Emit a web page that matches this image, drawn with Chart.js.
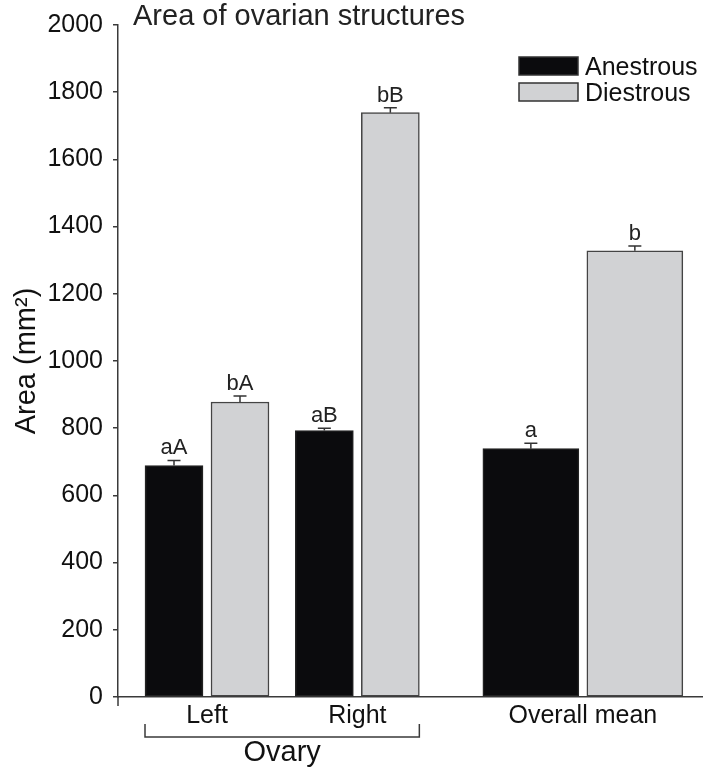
<!DOCTYPE html>
<html>
<head>
<meta charset="utf-8">
<script src="https://cdn.jsdelivr.net/npm/chart.js@4.4.1/dist/chart.umd.min.js"></script>
<style>
  html, body { margin: 0; padding: 0; background: #fff; }
  #wrap { width: 706px; height: 774px; position: relative; }
</style>
</head>
<body>
<div id="wrap"><canvas id="chart"></canvas></div>
<script>
// Area of ovarian structures, anestrous vs diestrous
const groups = ['Left', 'Right', 'Overall mean'];
const anestrous = [689, 793, 739];
const diestrous = [878, 1739, 1328];
const anestrousSE = [15, 7, 16];
const diestrousSE = [18, 15, 14];
const anestrousLetters = ['aA', 'aB', 'a'];
const diestrousLetters = ['bA', 'bB', 'b'];
const yTicks = [0, 200, 400, 600, 800, 1000, 1200, 1400, 1600, 1800, 2000];

// where each group sits on the (linear) x axis, ovary groups are closer together
const slots = [0, 1, 2.5];
const isOvary = i => i < 2;

const BLACK = '#0b0b0d';
const GREY = '#d1d2d4';
const AXIS = '#3a3a3a';
const FONT = "'Liberation Sans', Arial, Helvetica, sans-serif";

function points(values, keep) {
    return values.map((v, i) => ({ x: slots[i], y: keep(i) ? v : null }));
}

function barSet(label, values, se, letters, fill, border, ovary) {
    return {
        label: label,
        data: points(values, i => ovary ? isOvary(i) : !isOvary(i)),
        se: se,
        letters: letters,
        stack: label + (ovary ? '-ovary' : '-mean'),
        backgroundColor: fill,
        borderColor: border,
        borderWidth: 1.5,
        borderSkipped: false,
        barThickness: ovary ? 66 : 104,
        maxBarThickness: ovary ? 58 : 96,
        skipNull: true
    };
}

const datasets = [
    barSet('Anestrous', anestrous, anestrousSE, anestrousLetters, BLACK, '#222', true),
    barSet('Diestrous', diestrous, diestrousSE, diestrousLetters, GREY, '#444', true),
    barSet('Anestrous', anestrous, anestrousSE, anestrousLetters, BLACK, '#222', false),
    barSet('Diestrous', diestrous, diestrousSE, diestrousLetters, GREY, '#444', false)
];

// error bars (upper only) and significance letters
const errorBars = {
    id: 'errorBars',
    afterDatasetsDraw(chart) {
        const ctx = chart.ctx;
        const y = chart.scales.y;
        ctx.save();
        chart.data.datasets.forEach((ds, di) => {
            const meta = chart.getDatasetMeta(di);
            meta.data.forEach((bar, i) => {
                if (ds.data[i].y == null) return;
                const top = y.getPixelForValue(ds.data[i].y);
                const cap = y.getPixelForValue(ds.data[i].y + ds.se[i]);
                ctx.strokeStyle = '#333';
                ctx.lineWidth = 1.5;
                ctx.beginPath();
                ctx.moveTo(bar.x, top);
                ctx.lineTo(bar.x, cap);
                ctx.moveTo(bar.x - 6.5, cap);
                ctx.lineTo(bar.x + 6.5, cap);
                ctx.stroke();
                ctx.fillStyle = '#222';
                ctx.font = '22px ' + FONT;
                ctx.textAlign = 'center';
                ctx.textBaseline = 'alphabetic';
                ctx.fillText(ds.letters[i], bar.x, cap - 6);
            });
        });
        ctx.restore();
    }
};

// title, legend, ovary bracket
const decorations = {
    id: 'decorations',
    afterDraw(chart) {
        const ctx = chart.ctx;
        const area = chart.chartArea;
        ctx.save();

        ctx.fillStyle = '#222';
        ctx.font = '29px ' + FONT;
        ctx.textAlign = 'left';
        ctx.textBaseline = 'alphabetic';
        ctx.fillText('Area of ovarian structures', 133, 25);

        // legend
        chart.data.datasets.slice(0, 2).forEach((ds, i) => {
            const top = 57 + i * 26;
            ctx.fillStyle = ds.backgroundColor;
            ctx.fillRect(519, top, 59, 18);
            ctx.strokeStyle = '#333';
            ctx.lineWidth = 1.5;
            ctx.strokeRect(519, top, 59, 18);
            ctx.fillStyle = '#111';
            ctx.font = '25px ' + FONT;
            ctx.fillText(ds.label, 585, top + 18);
        });

        // y axis runs a little below the x axis
        ctx.strokeStyle = AXIS;
        ctx.lineWidth = 1.5;
        ctx.beginPath();
        ctx.moveTo(area.left, area.bottom);
        ctx.lineTo(area.left, area.bottom + 9);
        ctx.stroke();

        // bracket under Left / Right
        const a = chart.getDatasetMeta(0).data[0];
        const d = chart.getDatasetMeta(1).data[1];
        const x0 = a.x - a.width / 2;
        const x1 = d.x + d.width / 2;
        const b0 = area.bottom + 27, b1 = area.bottom + 40;
        ctx.beginPath();
        ctx.moveTo(x0, b0);
        ctx.lineTo(x0, b1);
        ctx.lineTo(x1, b1);
        ctx.lineTo(x1, b0);
        ctx.stroke();
        ctx.fillStyle = '#111';
        ctx.font = '29px ' + FONT;
        ctx.textAlign = 'center';
        ctx.textBaseline = 'middle';
        ctx.fillText('Ovary', (x0 + x1) / 2, area.bottom + 56);

        ctx.restore();
    }
};

new Chart(document.getElementById('chart'), {
    type: 'bar',
    data: { datasets: datasets },
    plugins: [errorBars, decorations],
    options: {
        responsive: true,
        maintainAspectRatio: false,
        animation: false,
        layout: { padding: { top: 20, right: 4, left: 0, bottom: 0 } },
        plugins: {
            legend: { display: false },
            tooltip: { enabled: false }
        },
        scales: {
            x: {
                type: 'linear',
                offset: false,
                min: -0.592,
                max: 3.2925,
                afterBuildTicks: s => { s.ticks = slots.map(v => ({ value: v })); },
                afterFit: s => { s.height = 77; },
                ticks: {
                    padding: 4,
                    color: '#111',
                    font: { family: FONT, size: 25 },
                    callback: (v, i) => groups[i]
                },
                grid: { display: true, drawOnChartArea: false, drawTicks: false },
                border: { display: true, color: AXIS, width: 1.5 }
            },
            y: {
                min: 0,
                max: 2000,
                afterBuildTicks: s => { s.ticks = yTicks.map(v => ({ value: v })); },
                afterFit: s => { s.width = 118; },
                ticks: {
                    padding: 10,
                    color: '#111',
                    font: { family: FONT, size: 25 },
                    callback: v => String(v)
                },
                grid: { display: true, drawOnChartArea: false, drawTicks: true, tickLength: 5, color: AXIS, lineWidth: 1.5 },
                border: { display: true, color: AXIS, width: 1.5 },
                title: {
                    display: true,
                    text: 'Area (mm²)',
                    color: '#111',
                    font: { family: FONT, size: 29 },
                    padding: { top: 10, bottom: 0 }
                }
            }
        }
    }
});
</script>
</body>
</html>
